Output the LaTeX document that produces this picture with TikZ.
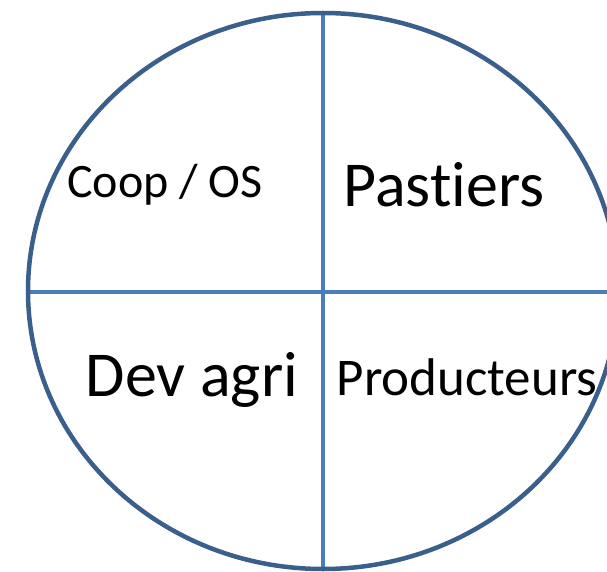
\documentclass[tikz,border=0pt]{standalone}
\usepackage{fontspec}
\setmainfont{Carlito}[Ligatures=NoCommon]
\definecolor{rimblue}{HTML}{3A5F8C}
\definecolor{lineblue}{HTML}{4A7EBB}
\begin{document}
\begin{tikzpicture}[x=1pt,y=-1pt,
  rim/.style={draw=rimblue,line width=4.5pt},
  divider/.style={draw=lineblue,line width=3.8pt},
  lbl/.style={inner sep=0pt,anchor=base,text=black}]
\useasboundingbox (0,0) rectangle (607,572);
\clip (0,0) rectangle (607,572);
\coordinate (c) at (323,291);
\coordinate (top) at (323,13);
\coordinate (bot) at (323,569);
\coordinate (left) at (28,292);
\coordinate (right) at (618,292);
\draw[divider] (top) -- (bot);
\draw[divider] (left) -- (right);
\draw[rim] (c) ellipse [x radius=295, y radius=278];
\node[lbl,font=\fontsize{48}{50}\selectfont] (coop) at (165,197) {Coop / OS};
\node[lbl,font=\fontsize{64}{66}\selectfont] (past) at (444,206) {Pastiers};
\node[lbl,font=\fontsize{64}{66}\selectfont] (dev) at (192,396) {Dev agri};
\node[lbl,font=\fontsize{53}{56}\selectfont] (prod) at (467,395) {Producteurs};
\end{tikzpicture}
\end{document}
